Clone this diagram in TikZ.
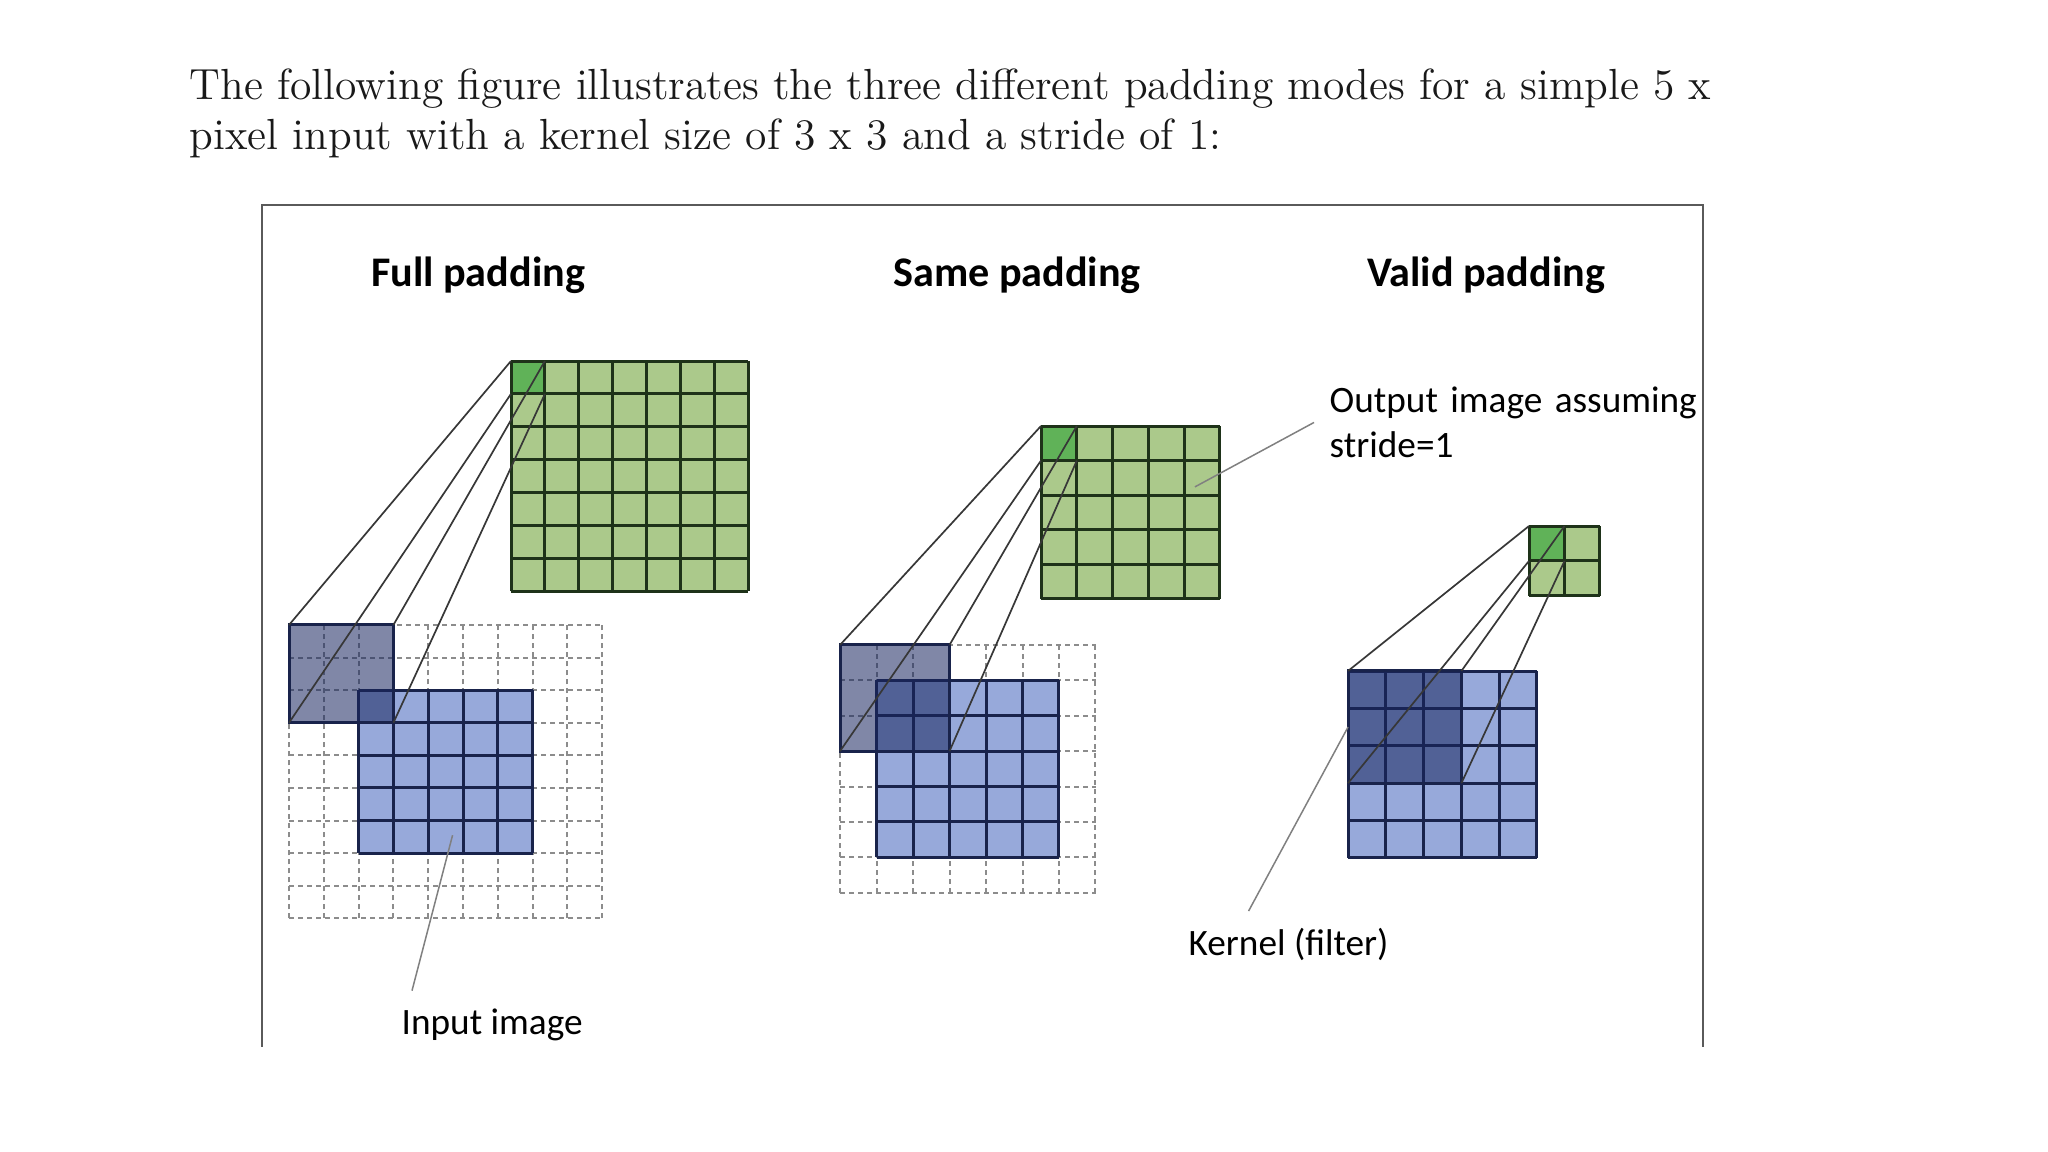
\documentclass[tikz,border=0pt]{standalone}
\usepackage{fontspec}
\newfontfamily\calibri{Carlito}
\definecolor{outgreen}{RGB}{171,201,139}
\definecolor{hotgreen}{RGB}{96,178,88}
\definecolor{greenline}{RGB}{30,50,25}
\definecolor{inblue}{RGB}{151,169,218}
\definecolor{blueline}{RGB}{25,35,75}
\definecolor{kernfill}{RGB}{25,38,95}
\definecolor{padgray}{RGB}{140,140,140}
\definecolor{linkgray}{RGB}{55,55,55}
\definecolor{framegray}{RGB}{90,90,90}

\begin{document}
\begin{tikzpicture}[x=0.1mm,y=0.1mm,
    padlines/.style={draw=padgray,line width=0.2mm,dash pattern=on 0.5mm off 0.4mm,step=1},
    inlines/.style={draw=blueline,line width=0.3mm,step=1},
    outlines/.style={draw=greenline,line width=0.3mm,step=1},
    kern/.style={rectangle,anchor=north west,inner sep=0pt,outer sep=0pt,fill=kernfill,fill opacity=0.55,draw=blueline,line width=0.3mm},
    hot/.style={rectangle,anchor=north west,inner sep=0pt,outer sep=0pt,fill=hotgreen},
    link/.style={draw=linkgray,line width=0.17mm},
    pointer/.style={draw=gray,line width=0.15mm},
    padtitle/.style={font=\calibri\bfseries\fontsize{12}{14}\selectfont,anchor=base},
    note/.style={font=\calibri\fontsize{10.6}{12.6}\selectfont,inner sep=0pt,anchor=base west},
    intro/.style={font=\fontsize{12.4}{14}\selectfont,inner sep=0pt,anchor=base west,text=black!90},
  ]

    \fill[white] (0,0) rectangle (2048,-1152);
    \useasboundingbox (0,0) rectangle (2048,-1152);

    \node[intro] (intro1) at (189,-100) {The following figure illustrates the three different padding modes for a simple 5 x};
    \node[intro] (intro2) at (189,-150) {pixel input with a kernel size of 3 x 3 and a stride of 1:};

    % figure frame, open at the bottom
    \draw[framegray,line width=0.2mm] (262,-1047) -- (262,-205) -- (1703,-205) -- (1703,-1047);

    \node[padtitle] (fulltitle) at (478,-287) {Full padding};
    \node[padtitle] (sametitle) at (1017,-287) {Same padding};
    \node[padtitle] (validtitle) at (1486,-287) {Valid padding};

    % full padding
    \begin{scope}[shift={(511,-361)},x=3.39mm,y=3.29mm]
        \fill[outgreen] (0,0) rectangle (7,-7);
        \node[hot,minimum width=3.39mm,minimum height=3.29mm] (fullo) at (0,0) {};
        \draw[outlines] (0,0) grid (7,-7);
    \end{scope}
    \begin{scope}[shift={(289,-625)},x=3.48mm,y=3.26mm]
        \draw[padlines] (0,0) grid (9,-9);
        \fill[inblue] (2,-2) rectangle (7,-7);
        \draw[inlines] (2,-2) grid (7,-7);
        \node[kern,minimum width=10.44mm,minimum height=9.78mm] (fullk) at (0,0) {};
        \coordinate (fullin) at (4.7,-6.45);
    \end{scope}

    % same padding
    \begin{scope}[shift={(1041,-426)},x=3.58mm,y=3.46mm]
        \fill[outgreen] (0,0) rectangle (5,-5);
        \node[hot,minimum width=3.58mm,minimum height=3.46mm] (sameo) at (0,0) {};
        \draw[outlines] (0,0) grid (5,-5);
        \coordinate (sameout) at (4.3,-1.76);
    \end{scope}
    \begin{scope}[shift={(840,-645)},x=3.65mm,y=3.54mm]
        \draw[padlines] (0,0) grid (7,-7);
        \fill[inblue] (1,-1) rectangle (6,-6);
        \draw[inlines] (1,-1) grid (6,-6);
        \node[kern,minimum width=10.95mm,minimum height=10.62mm] (samek) at (0,0) {};
    \end{scope}

    % valid padding
    \begin{scope}[shift={(1529,-526)},x=3.55mm,y=3.5mm]
        \fill[outgreen] (0,0) rectangle (2,-2);
        \node[hot,minimum width=3.55mm,minimum height=3.5mm] (valido) at (0,0) {};
        \draw[outlines] (0,0) grid (2,-2);
    \end{scope}
    \begin{scope}[shift={(1348,-671)},x=3.78mm,y=3.74mm]
        \fill[inblue] (0,0) rectangle (5,-5);
        \draw[inlines] (0,0) grid (5,-5);
        \node[kern,minimum width=11.34mm,minimum height=11.22mm] (validk) at (0,0) {};
    \end{scope}

    \draw[link] (fullk.north west) -- (fullo.north west);
    \draw[link] (fullk.north east) -- (fullo.north east);
    \draw[link] (fullk.south west) -- (fullo.south west);
    \draw[link] (fullk.south east) -- (fullo.south east);

    \draw[link] (samek.north west) -- (sameo.north west);
    \draw[link] (samek.north east) -- (sameo.north east);
    \draw[link] (samek.south west) -- (sameo.south west);
    \draw[link] (samek.south east) -- (sameo.south east);

    \draw[link] (validk.north west) -- (valido.north west);
    \draw[link] (validk.north east) -- (valido.north east);
    \draw[link] (validk.south west) -- (valido.south west);
    \draw[link] (validk.south east) -- (valido.south east);

    \node[note] (inlbl) at (401,-1035) {Input image};
    \draw[pointer] ([xshift=1.1mm,yshift=1.8mm]inlbl.north west) -- (fullin);

    \node[note] (kerlbl) at (1188,-956) {Kernel (filter)};
    \draw[pointer] ([xshift=-4mm,yshift=1.7mm]kerlbl.north) -- (validk.west);

    \node[note,text width=4cm,align=left] (outlbl) at (1329,-413) {Output image assuming\\stride=1};
    \draw[pointer] ([xshift=-1.5mm]outlbl.west) -- (sameout);

\end{tikzpicture}
\end{document}
